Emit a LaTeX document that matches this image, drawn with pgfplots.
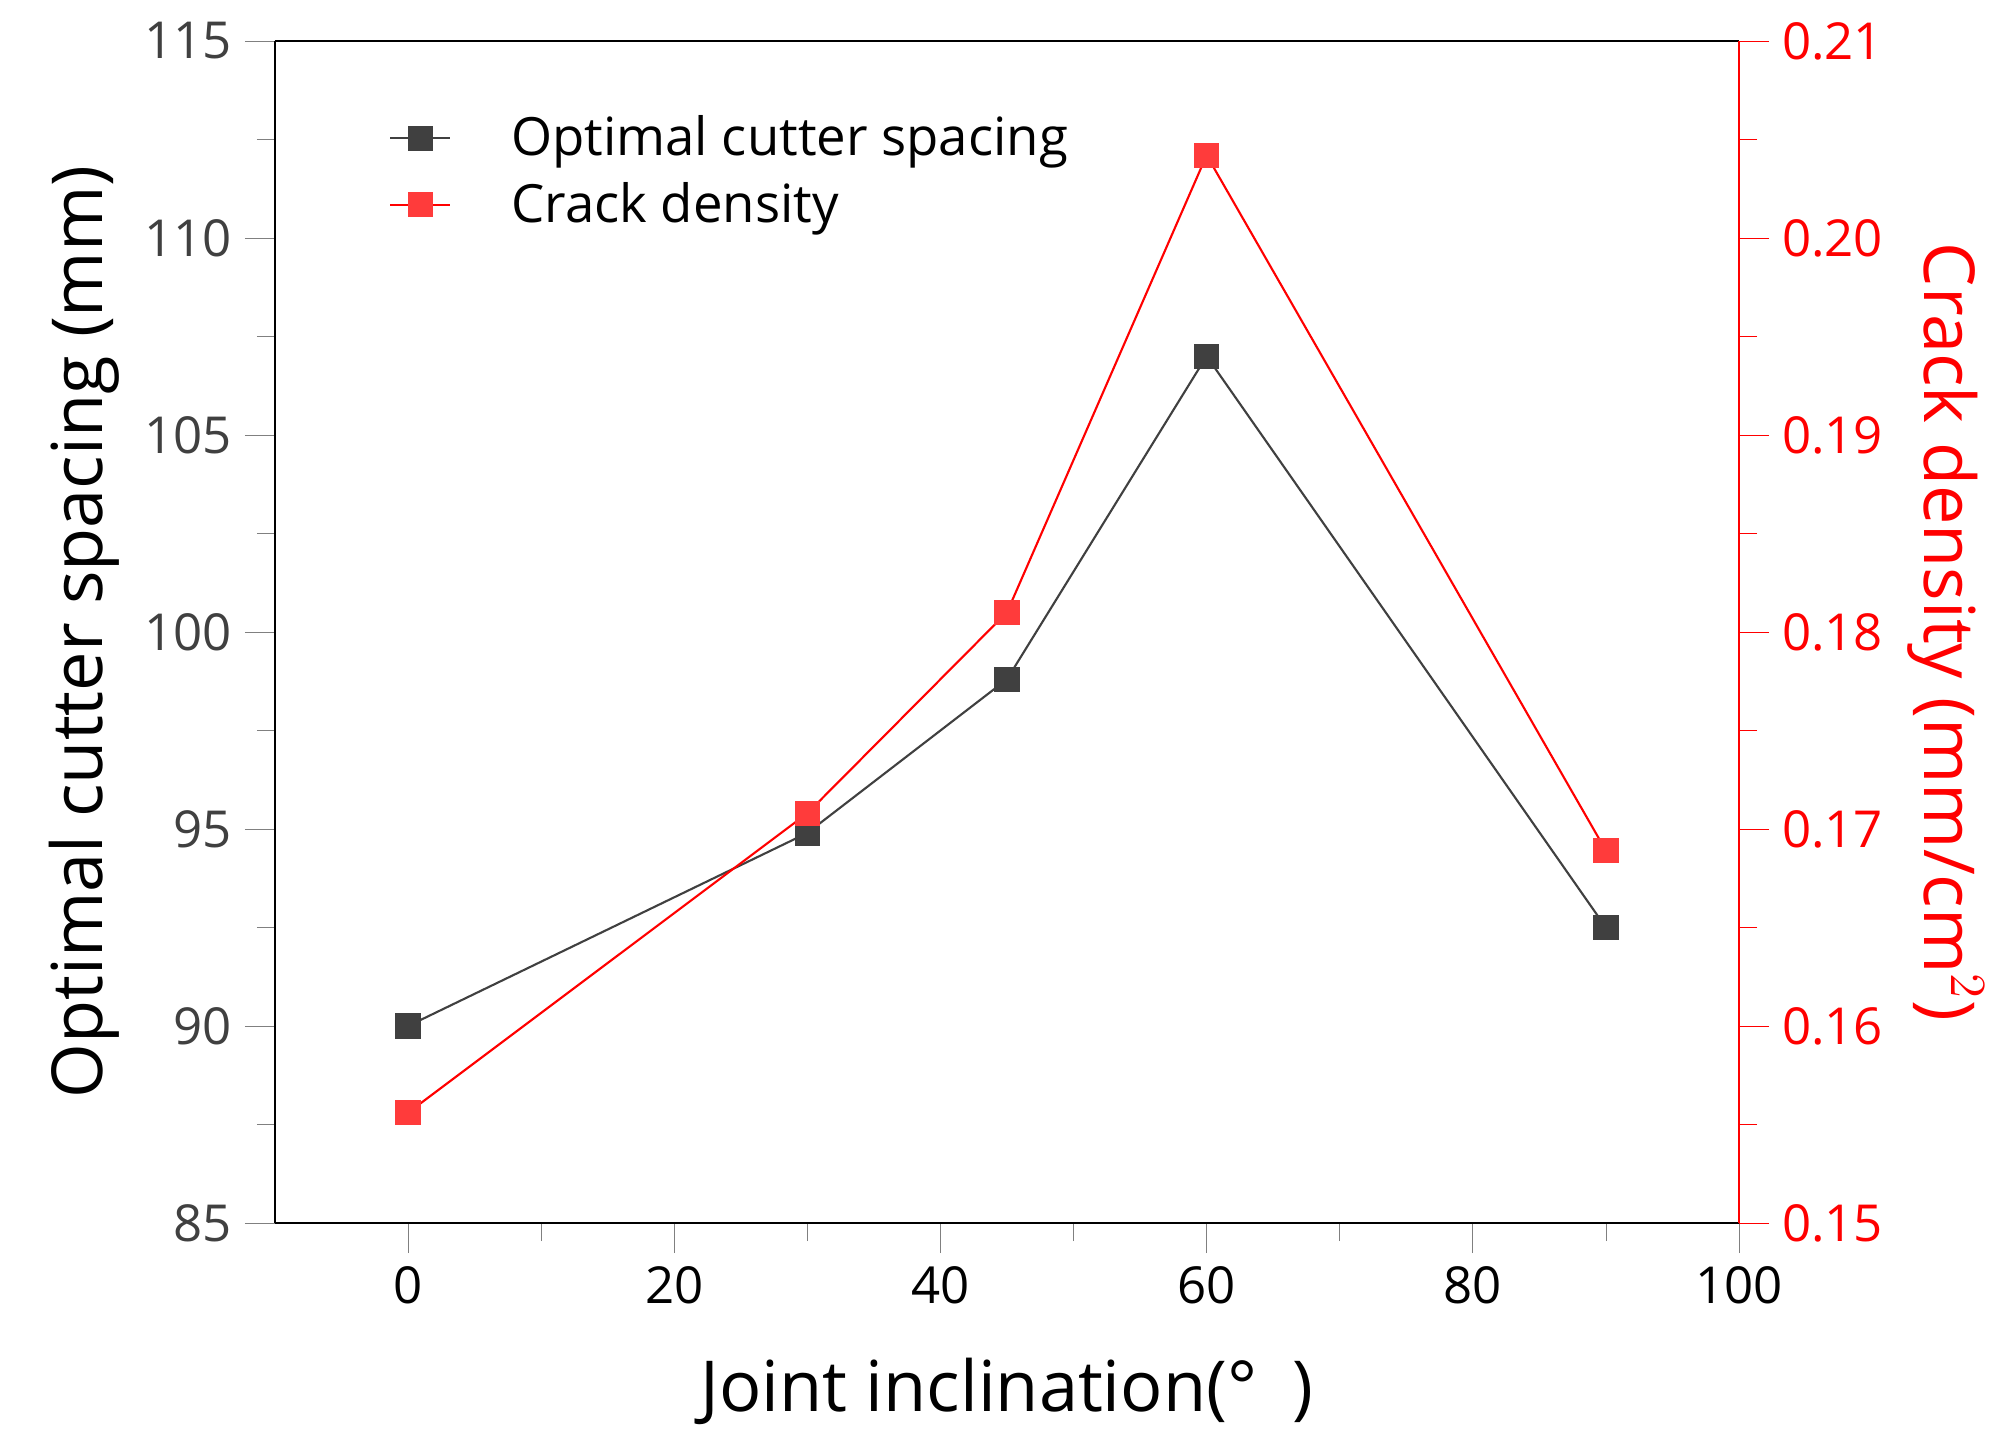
\documentclass[border=0pt]{standalone}
\usepackage{pgfplots}
\pgfplotsset{compat=1.18}
\usepackage{fontspec}
\setmainfont{Open Sans}
\definecolor{dg}{HTML}{404040}
\definecolor{rd}{HTML}{FF3B3B}
\begin{document}
\begin{tikzpicture}
\path[use as bounding box] (-27.5mm,-22.9mm) rectangle (174.0mm,122.3mm);
\pgfplotsset{every axis/.style={scale only axis, width=146.4mm, height=118.2mm, at={(0,0)}, anchor=south west,
  xmin=-10, xmax=100, tick label style={font=\fontsize{14.5}{17}\selectfont}, /pgf/number format/assume math mode=true,
  tick align=outside, major tick length=3mm, minor tick length=1.8mm, line width=0.8pt}}
\begin{axis}[
  axis y line*=left, axis x line*=box, xtick pos=bottom,
  ymin=85, ymax=115, ytick={85,90,...,115}, minor y tick num=1,
  xtick={0,20,...,100}, minor x tick num=1,
  yticklabel style={text=dg},
  xlabel={Joint inclination(°\,\,\,)}, ylabel={Optimal cutter spacing (mm)},
  label style={font=\fontsize{20}{24}\selectfont},
  xlabel style={yshift=-3mm},
  legend style={draw=none, fill=none, at={(0.07,0.95)}, anchor=north west, font=\fontsize{15}{18}\selectfont, row sep=2pt},
  legend cell align=left]
\addplot[dg, line width=0.6pt, mark=square*, mark size=3.3pt, mark options={fill=dg}] coordinates {(0,90) (30,94.9) (45,98.8) (60,107) (90,92.5)};
\addlegendentry{\quad Optimal cutter spacing}
\addlegendimage{red, line width=0.6pt, mark=square*, mark size=3.3pt, mark options={fill=rd, draw=rd}}
\addlegendentry{\quad Crack density}
\end{axis}
\begin{axis}[
  axis y line*=right, axis x line=none,
  ymin=0.15, ymax=0.21, ytick={0.15,0.16,...,0.21}, minor y tick num=1,
  y axis line style={red}, ytick style={red}, yticklabel style={text=red, /pgf/number format/.cd, fixed, fixed zerofill, precision=2},
  ylabel={Crack density (mm/cm$^2$)}, ylabel style={red, font=\fontsize{20}{24}\selectfont, rotate=180}]
\addplot[red, line width=0.6pt, mark=square*, mark size=3.3pt, mark options={fill=rd, draw=rd}] coordinates {(0,0.1556) (30,0.1708) (45,0.1810) (60,0.2042) (90,0.1689)};
\end{axis}
\end{tikzpicture}
\end{document}
